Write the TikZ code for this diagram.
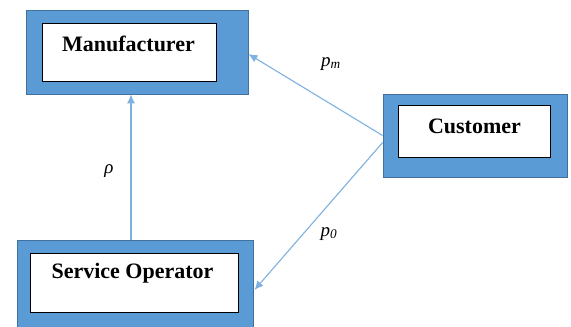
\documentclass[tikz,border=0pt]{standalone}
\usepackage{fontspec}
\setmainfont{Liberation Serif}
\usetikzlibrary{arrows.meta}
\definecolor{boxblue}{HTML}{5B9BD5}
\definecolor{boxedge}{HTML}{41719C}
\definecolor{arrblue}{HTML}{7EB0E0}
\tikzset{
  outerbox/.style={draw=boxedge, line width=0.8pt, fill=boxblue, inner sep=0pt},
  innerbox/.style={draw=black, line width=1pt, fill=white, inner sep=0pt, anchor=north west},
  boxtext/.style={font=\fontsize{22}{24}\selectfont\bfseries, anchor=base, inner sep=0pt},
  conn/.style={draw=arrblue, line width=1.1pt, -{Latex[length=9pt,width=8pt]}},
  lbl/.style={font=\fontsize{19}{21}\selectfont\itshape, inner sep=0pt}
}
\begin{document}
\begin{tikzpicture}[x=1pt,y=-1pt]
\useasboundingbox (0,0) rectangle (571,327);
\begin{scope}
\clip (0,0) rectangle (571,327);
% Manufacturer
\node[outerbox, minimum width=222pt, minimum height=84pt] (man) at (137,52) {};
\node[innerbox, minimum width=174pt, minimum height=58pt] (mani) at (42,23) {};
\node[boxtext] (mant) at (128.5,51) {Manufacturer};
% Customer
\node[outerbox, minimum width=184pt, minimum height=83pt] (cust) at (475,135.5) {};
\node[innerbox, minimum width=152pt, minimum height=52pt] (custi) at (398,105) {};
\node[boxtext] (custt) at (474.5,133) {Customer};
% Service Operator
\node[outerbox, minimum width=236pt, minimum height=100pt] (so) at (135,290) {};
\node[innerbox, minimum width=208pt, minimum height=59pt] (soi) at (30,253) {};
\node[boxtext] (sot) at (132.5,278) {Service Operator};
\end{scope}
% connectors
\draw[conn] ([yshift=0pt]cust.west) -- ([yshift=-2pt]man.east);
\draw[conn] ([yshift=-7pt]cust.west) -- ([xshift=1pt]so.east);
\draw[conn] ([xshift=-4pt]so.north) -- ([xshift=-6pt]man.south);
% labels
\node[lbl, anchor=base] (lpm) at (331,66) {p\textsubscript{m}};
\node[lbl, anchor=base] (lp0) at (329,236) {p\textsubscript{0}};
\node[lbl, anchor=base] (lrho) at (109,173) {ρ};
\end{tikzpicture}
\end{document}
